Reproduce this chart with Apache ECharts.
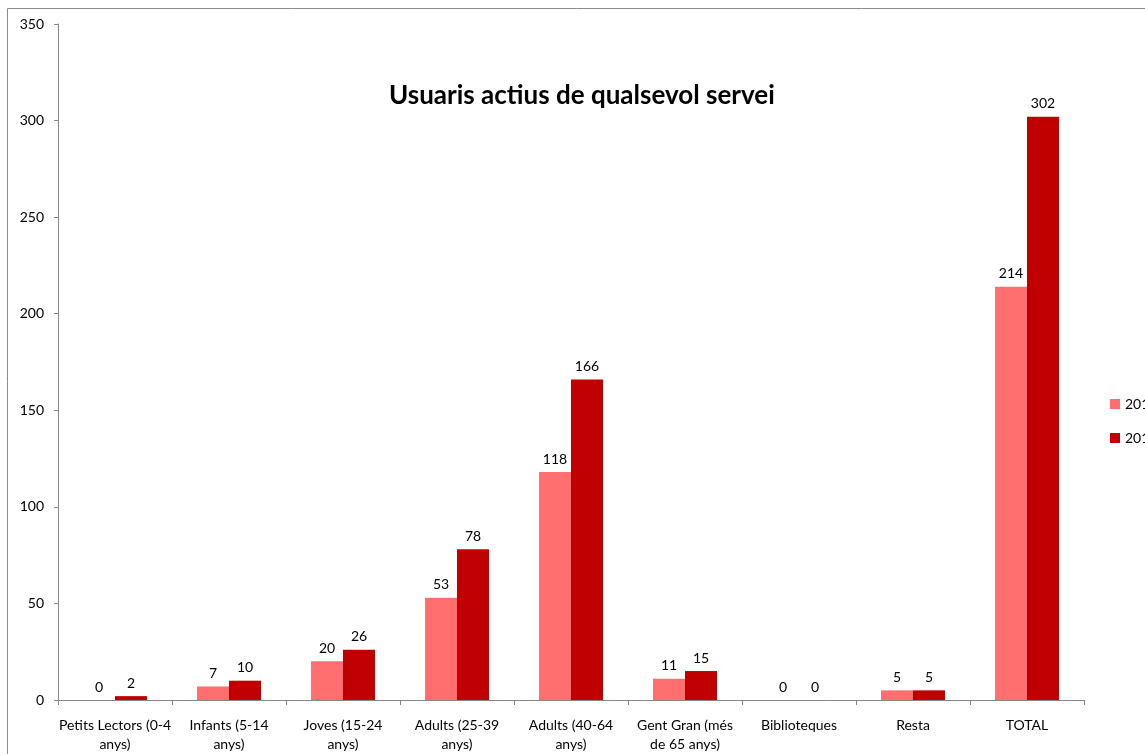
<!DOCTYPE html>
<html>
<head>
<meta charset="utf-8">
<script src="https://cdn.jsdelivr.net/npm/echarts@6/dist/echarts.min.js"></script>
<style>html,body{margin:0;padding:0;background:#fff}#c{width:1145px;height:754px}</style>
</head>
<body>
<div id="c"></div>
<script>
const categories = ["Petits Lectors (0-4\nanys)", "Infants (5-14\nanys)", "Joves (15-24\nanys)", "Adults (25-39\nanys)", "Adults (40-64\nanys)", "Gent Gran (més\nde 65 anys)", "Biblioteques", "Resta", "TOTAL"];
const seriesNames = ["2011", "2012"];
const values2011 = [0, 7, 20, 53, 118, 11, 0, 5, 214];
const values2012 = [2, 10, 26, 78, 166, 15, 0, 5, 302];
const yTicks = { min: 0, max: 350, interval: 50 };
const titleText = "Usuaris actius de qualsevol servei";

const chart = echarts.init(document.getElementById('c'), null, { renderer: 'canvas' });
const FONT = 'Lato, "Open Sans", sans-serif';
const lbl = { show: true, position: 'top', distance: 6, color: '#000', fontSize: 14, fontFamily: FONT };
chart.setOption({
  animation: false,
  backgroundColor: '#fff',
  graphic: [{ type: 'rect', shape: { x: 7.5, y: 8.5, width: 1300, height: 900 }, style: { fill: 'none', stroke: '#8c8c8c', lineWidth: 1 }, z: -1 }],
  title: { text: titleText, left: 384, top: 78, textStyle: { fontFamily: FONT, fontSize: 26, fontWeight: 'bold', color: '#000' } },
  legend: {
    orient: 'vertical', left: 1105, top: 392, itemWidth: 10, itemHeight: 10, itemGap: 20,
    icon: 'rect', textStyle: { fontFamily: FONT, fontSize: 14, color: '#000' }, data: seriesNames
  },
  grid: { left: 58, right: 61, top: 24, bottom: 45, containLabel: false },
  xAxis: {
    type: 'category', data: categories,
    axisLine: { lineStyle: { color: '#868686' } },
    axisTick: { show: true, length: 5, lineStyle: { color: '#868686' } },
    axisLabel: { color: '#000', fontSize: 14, fontFamily: FONT, margin: 16, lineHeight: 19, interval: 0 }
  },
  yAxis: {
    type: 'value', min: yTicks.min, max: yTicks.max, interval: yTicks.interval,
    axisLine: { show: true, lineStyle: { color: '#868686' } },
    axisTick: { show: true, length: 4, lineStyle: { color: '#868686' } },
    splitLine: { show: false },
    axisLabel: { color: '#000', fontSize: 14, fontFamily: FONT, margin: 14 }
  },
  series: [
    { name: seriesNames[0], type: 'bar', data: values2011, barWidth: 32, barGap: '0%', itemStyle: { color: '#FF6F6F' }, label: lbl },
    { name: seriesNames[1], type: 'bar', data: values2012, barWidth: 32, barGap: '0%', itemStyle: { color: '#C00000' }, label: lbl }
  ]
});
</script>
</body>
</html>
